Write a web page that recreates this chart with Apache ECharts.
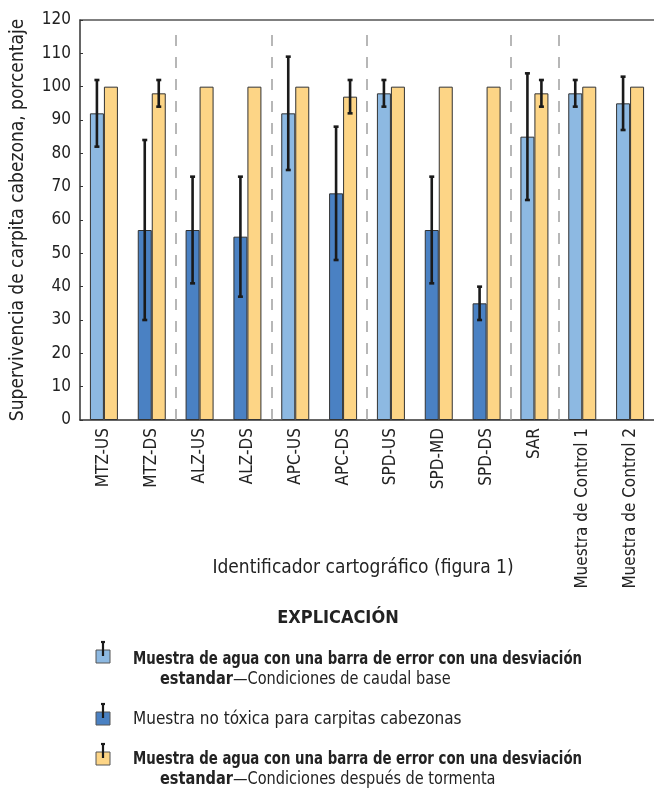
<!DOCTYPE html>
<html>
<head>
<meta charset="utf-8">
<script src="https://cdn.jsdelivr.net/npm/echarts@6/dist/echarts.min.js"></script>
<style>
  html, body { margin: 0; padding: 0; background: #fff; }
  #chart-ctn { width: 654px; height: 788px; }
</style>
</head>
<body>
<div id="chart-ctn"></div>
<script>
var categories = ['MTZ-US', 'MTZ-DS', 'ALZ-US', 'ALZ-DS', 'APC-US', 'APC-DS',
  'SPD-US', 'SPD-MD', 'SPD-DS', 'SAR', 'Muestra de Control 1', 'Muestra de Control 2'];

// primer barra: caudal base (azul claro) o no tóxica (azul oscuro)
var baseValues     = [92, null, null, null, 92, null, 98, null, null, 85, 98, 95];
var nonToxicValues = [null, 57, 57, 55, null, 68, null, 57, 35, null, null, null];
var firstErrLow    = [82, 30, 41, 37, 75, 48, 94, 41, 30, 66, 94, 87];
var firstErrHigh   = [102, 84, 73, 73, 109, 88, 102, 73, 40, 104, 102, 103];

// segunda barra: después de tormenta
var stormValues  = [100, 98, 100, 100, 100, 97, 100, 100, 100, 98, 100, 100];
var stormErrLow  = [null, 94, null, null, null, 92, null, null, null, 94, null, null];
var stormErrHigh = [null, 102, null, null, null, 102, null, null, null, 102, null, null];

var separators = [2, 4, 6, 9, 10];
var yTicks = { min: 0, max: 120, interval: 10 };

var FONT = "'Liberation Sans Narrow', 'DejaVu Sans Condensed', sans-serif";
var LIGHT = '#8db9e2';
var DARK = '#4a81c3';
var YELLOW = '#fdd586';
var INK = '#222';

function errData(low, high) {
  var out = [];
  for (var i = 0; i < low.length; i++) {
    if (low[i] != null && high[i] != null) out.push([i, low[i], high[i]]);
  }
  return out;
}

function errRender(offset) {
  return function (params, api) {
    var idx = api.value(0);
    var lo = api.coord([idx, api.value(1)]);
    var hi = api.coord([idx, api.value(2)]);
    var x = lo[0] + offset;
    var st = { stroke: '#1a1a1a', lineWidth: 2.6 };
    return {
      type: 'group',
      children: [
        { type: 'line', shape: { x1: x, y1: hi[1], x2: x, y2: lo[1] }, style: st },
        { type: 'line', shape: { x1: x - 2.5, y1: hi[1], x2: x + 2.5, y2: hi[1] }, style: st },
        { type: 'line', shape: { x1: x - 2.5, y1: lo[1], x2: x + 2.5, y2: lo[1] }, style: st }
      ]
    };
  };
}

var sepLines = separators.map(function (s) {
  return [{ coord: [s, 0] }, { coord: [s, 117.6] }];
});

function legendIcon(y, color) {
  return [
    { type: 'rect', shape: { x: 96, y: y, width: 14, height: 13 }, style: { fill: color, stroke: '#555', lineWidth: 1 } },
    { type: 'line', shape: { x1: 103, y1: y - 8, x2: 103, y2: y + 6 }, style: { stroke: '#1a1a1a', lineWidth: 2.2 } },
    { type: 'line', shape: { x1: 101, y1: y - 8, x2: 105, y2: y - 8 }, style: { stroke: '#1a1a1a', lineWidth: 2.2 } }
  ];
}

function boldLine(y, text) {
  return { type: 'text', x: 133, y: y, scaleX: 0.87,
    style: { text: text, font: 'bold 17px ' + FONT, fill: INK, verticalAlign: 'middle' } };
}

function subLine(y, text) {
  return { type: 'text', x: 160, y: y, scaleX: 0.95,
    style: { text: text, font: '17px ' + FONT, fill: INK, verticalAlign: 'middle',
      rich: { b: { fontWeight: 'bold', fontSize: 17, fontFamily: FONT, fill: INK } } } };
}

var chart = echarts.init(document.getElementById('chart-ctn'));

var barStyle = { borderColor: '#333', borderWidth: 1 };

var option = {
  animation: false,
  textStyle: { fontFamily: FONT },
  grid: { left: 80, top: 20, width: 577, height: 400 },
  xAxis: [{
    type: 'category',
    data: categories,
    boundaryGap: true,
    axisLine: { lineStyle: { color: '#333', width: 1.5 } },
    axisTick: { show: false },
    axisLabel: { rotate: 90, fontSize: 17, color: INK, margin: 8, fontFamily: FONT }
  }, {
    type: 'value', min: 0, max: 12, show: false
  }, {
    type: 'category', data: categories, position: 'top',
    axisLine: { show: true, lineStyle: { color: '#555', width: 1.5 } },
    axisTick: { show: false }, axisLabel: { show: false }
  }],
  yAxis: {
    type: 'value',
    min: yTicks.min, max: yTicks.max, interval: yTicks.interval,
    axisLine: { show: true, lineStyle: { color: '#333', width: 1.5 } },
    axisTick: { show: true, inside: true, length: 3, lineStyle: { color: '#333' } },
    splitLine: { show: false },
    axisLabel: { fontSize: 17, color: INK, margin: 9, fontFamily: FONT },
    name: 'Supervivencia de carpita cabezona, porcentaje',
    nameLocation: 'middle',
    nameGap: 52,
    nameTextStyle: { fontSize: 19, color: INK, fontFamily: FONT }
  },
  series: [
    {
      name: 'caudal base', type: 'bar', stack: 'first', data: baseValues,
      barWidth: 14, barGap: '0%', itemStyle: Object.assign({ color: LIGHT }, barStyle)
    },
    {
      name: 'no tóxica', type: 'bar', stack: 'first', data: nonToxicValues,
      barWidth: 14, barGap: '0%', itemStyle: Object.assign({ color: DARK }, barStyle)
    },
    {
      name: 'tormenta', type: 'bar', data: stormValues,
      barWidth: 14, barGap: '0%', itemStyle: Object.assign({ color: YELLOW }, barStyle)
    },
    {
      type: 'custom', renderItem: errRender(-7), data: errData(firstErrLow, firstErrHigh),
      encode: { x: 0, y: [1, 2] }, z: 10, silent: true
    },
    {
      type: 'custom', renderItem: errRender(7), data: errData(stormErrLow, stormErrHigh),
      encode: { x: 0, y: [1, 2] }, z: 10, silent: true
    },
    {
      type: 'line', xAxisIndex: 1, data: [], silent: true,
      markLine: {
        symbol: 'none', silent: true, label: { show: false },
        lineStyle: { color: '#a0a0a0', width: 1.5, type: [11, 11] },
        data: sepLines
      }
    }
  ],
  graphic: [].concat(
    [{ type: 'text', x: 363, y: 568, style: { text: 'Identificador cartográfico (figura 1)', font: '19px ' + FONT, fill: INK, align: 'center', verticalAlign: 'middle' } },
     { type: 'text', x: 338, y: 618, style: { text: 'EXPLICACIÓN', font: 'bold 18px ' + FONT, fill: INK, align: 'center', verticalAlign: 'middle' } }],
    legendIcon(650, LIGHT),
    [boldLine(660, 'Muestra de agua con una barra de error con una desviación'),
     subLine(680, '{b|estandar}—Condiciones de caudal base')],
    legendIcon(712, DARK),
    [{ type: 'text', x: 133, y: 720, style: { text: 'Muestra no tóxica para carpitas cabezonas', font: '17px ' + FONT, fill: INK, verticalAlign: 'middle' } }],
    legendIcon(752, YELLOW),
    [boldLine(760, 'Muestra de agua con una barra de error con una desviación'),
     subLine(780, '{b|estandar}—Condiciones después de tormenta')]
  )
};

chart.setOption(option);
</script>
</body>
</html>
